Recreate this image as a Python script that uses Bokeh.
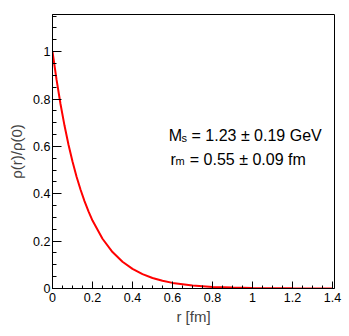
from bokeh.plotting import figure
from bokeh.models import Label, FixedTicker, Range1d
from bokeh.embed import file_html
from bokeh.resources import INLINE

# Data
r_fm = [0.0, 0.02, 0.04, 0.06, 0.08, 0.10, 0.12, 0.14, 0.16, 0.18, 0.20,
        0.25, 0.30, 0.35, 0.40, 0.45, 0.50, 0.55, 0.60, 0.70, 0.80, 0.90,
        1.00, 1.10, 1.20, 1.30, 1.40]
rho_ratio = [1.0, 0.883, 0.779, 0.688, 0.607, 0.536, 0.473, 0.418, 0.369, 0.326, 0.287,
             0.210, 0.154, 0.113, 0.083, 0.0605, 0.0443, 0.0324, 0.0237, 0.0127, 0.0068, 0.0037,
             0.0020, 0.0011, 0.0006, 0.0003, 0.0002]

x_ticks = [0, 0.2, 0.4, 0.6, 0.8, 1, 1.2, 1.4]
x_tick_labels = ["0", "0.2", "0.4", "0.6", "0.8", "1", "1.2", "1.4"]
y_ticks = [0, 0.2, 0.4, 0.6, 0.8, 1]
y_tick_labels = ["0", "0.2", "0.4", "0.6", "0.8", "1"]
x_minor = [i * 0.05 for i in range(0, 29)]
y_minor = [i * 0.05 for i in range(0, 24)]

FONT = "Liberation Sans"

p = figure(width=349, height=336, output_backend="svg", toolbar_location=None,
           x_range=Range1d(0, 1.41), y_range=Range1d(0, 1.157),
           min_border_left=52, min_border_right=15, min_border_top=14, min_border_bottom=48)
p.background_fill_color = "white"
p.border_fill_color = "white"
p.grid.visible = False
p.outline_line_color = "black"
p.outline_line_width = 1

p.line(r_fm, rho_ratio, line_color="#ff0000", line_width=2)

# x axis
xa = p.xaxis[0]
xa.ticker = FixedTicker(ticks=x_ticks, minor_ticks=x_minor)
xa.major_label_overrides = {t: l for t, l in zip(x_ticks, x_tick_labels)}
xa.major_tick_in = 7
xa.major_tick_out = 0
xa.minor_tick_in = 3
xa.minor_tick_out = 0
xa.major_label_standoff = 4
xa.major_label_text_font = FONT
xa.major_label_text_font_size = "12.5px"
xa.major_label_text_color = "black"
xa.axis_label = "r [fm]"
xa.axis_label_text_font = FONT
xa.axis_label_text_font_size = "15px"
xa.axis_label_text_font_style = "normal"
xa.axis_label_standoff = 3
xa.axis_line_color = "black"

# y axis
ya = p.yaxis[0]
ya.ticker = FixedTicker(ticks=y_ticks, minor_ticks=y_minor)
ya.major_label_overrides = {t: l for t, l in zip(y_ticks, y_tick_labels)}
ya.major_tick_in = 9
ya.major_tick_out = 0
ya.minor_tick_in = 4
ya.minor_tick_out = 0
ya.major_label_standoff = 2
ya.major_label_text_font = FONT
ya.major_label_text_font_size = "12.5px"
ya.major_label_text_color = "black"
ya.axis_label = "ρ(r)/ρ(0)"
ya.axis_label_text_font = FONT
ya.axis_label_text_font_size = "15px"
ya.axis_label_text_font_style = "normal"
ya.axis_label_standoff = 5
ya.axis_line_color = "black"

# annotation text
def lab(x, y, t, size):
    p.add_layout(Label(x=x, y=y, text=t, text_font=FONT, text_font_size=size,
                       text_color="black", text_baseline="alphabetic", text_align="left"))

lab(0.5815, 0.644, "M", "16px")
lab(0.645, 0.6355, "s", "11px")
lab(0.695, 0.644, "= 1.23 \u00b1 0.19 GeV", "16px")
lab(0.59, 0.5456, "r", "16px")
lab(0.615, 0.537, "m", "11px")
lab(0.6865, 0.5456, "= 0.55 \u00b1 0.09 fm", "16px")

open("out.html", "w").write(file_html(p, INLINE))
